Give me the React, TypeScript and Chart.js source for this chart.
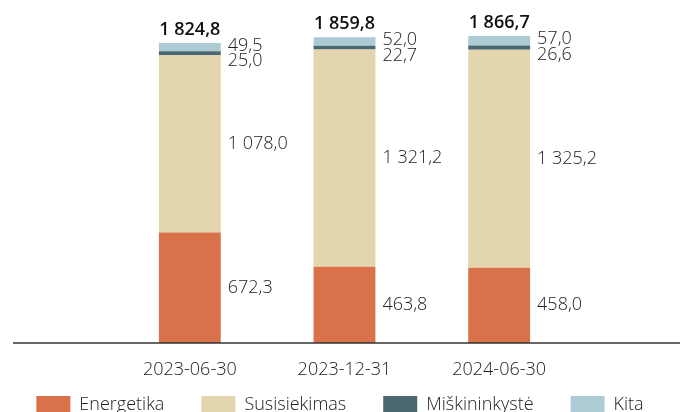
import React, { useEffect, useRef } from "react";
import { Chart, registerables } from "chart.js";

Chart.register(...registerables);

const categories = ["2023-06-30", "2023-12-31", "2024-06-30"];
const energetika = [672.3, 463.8, 458.0];
const susisiekimas = [1078.0, 1321.2, 1325.2];
const miskininkyste = [25.0, 22.7, 26.6];
const kita = [49.5, 52.0, 57.0];
const totals = [1824.8, 1859.8, 1866.7];
const seriesNames = ["Energetika", "Susisiekimas", "Miškininkystė", "Kita"];
const colors = ["#d9724a", "#e3d5ae", "#4b6872", "#adcbd4"];

const FONT = "'Open Sans', 'Noto Sans', sans-serif";

function fmt(v: number): string {
  const s = v.toFixed(1).replace(".", ",");
  const [i, d] = s.split(",");
  const withSp = i.replace(/\B(?=(\d{3})+(?!\d))/g, " ");
  return withSp + "," + d;
}

const W = 680;
const H = 424;

const labelPlugin = {
  id: "segLabels",
  afterDatasetsDraw(chart: any) {
    const ctx = chart.ctx;
    ctx.save();
    ctx.textBaseline = "middle";
    chart.data.datasets.forEach((ds: any, di: number) => {
      const meta = chart.getDatasetMeta(di);
      meta.data.forEach((bar: any, i: number) => {
        const v = ds.data[i];
        const x = bar.x + bar.width / 2 + 7;
        const center = (bar.y + bar.base) / 2;
        let y = center;
        if (di === 3) y = center - 1.5;
        if (di === 2) {
          const k = chart.getDatasetMeta(3).data[i];
          y = (k.y + k.base) / 2 - 1.5 + 15.5;
        }
        ctx.font = `300 18px ${FONT}`;
        ctx.fillStyle = "#222";
        ctx.textAlign = "left";
        ctx.fillText(fmt(v), x, y);
      });
    });
    const topMeta = chart.getDatasetMeta(3);
    topMeta.data.forEach((bar: any, i: number) => {
      ctx.font = `600 18px ${FONT}`;
      ctx.fillStyle = "#111";
      ctx.textAlign = "center";
      ctx.fillText(fmt(totals[i]), bar.x, bar.y - 13.5);
    });
    const yb = chart.chartArea.bottom;
    ctx.strokeStyle = "#333";
    ctx.lineWidth = 1.5;
    ctx.beginPath();
    ctx.moveTo(13, yb);
    ctx.lineTo(W, yb);
    ctx.stroke();
    ctx.restore();
  },
};

export default function App() {
  const ref = useRef<HTMLCanvasElement | null>(null);
  useEffect(() => {
    if (!ref.current) return;
    const series = [energetika, susisiekimas, miskininkyste, kita];
    const chart = new Chart(ref.current, {
      type: "bar",
      data: {
        labels: categories,
        datasets: series.map((d, i) => ({
          label: seriesNames[i],
          data: d,
          backgroundColor: colors[i],
          borderWidth: 0,
          barPercentage: 0.4,
          categoryPercentage: 1,
        })),
      },
      options: {
        responsive: false,
        animation: false,
        devicePixelRatio: 1,
        layout: { padding: { top: 14.2, left: 0, right: 0, bottom: 0 } },
        plugins: {
          tooltip: { enabled: false },
          legend: {
            position: "bottom",
            labels: {
              boxWidth: 34,
              boxHeight: 18,
              padding: 10,
              color: "#222",
              font: { family: FONT, size: 18, weight: "300" },
              generateLabels: (chart: any) =>
                chart.data.datasets.map((ds: any, i: number) => ({
                  text: i < chart.data.datasets.length - 1 ? ds.label + "\u2003\u2002" : ds.label,
                  fillStyle: ds.backgroundColor,
                  strokeStyle: ds.backgroundColor,
                  lineWidth: 0,
                  hidden: false,
                  datasetIndex: i,
                  fontColor: "#222",
                })),
            },
          },
        },
        scales: {
          x: {
            stacked: true,
            grid: { display: false },
            border: { display: false },
            ticks: {
              color: "#222",
              padding: 8,
              font: { family: FONT, size: 18, weight: "300" },
            },
            afterFit: (s: any) => {
              s.height = 43;
            },
          },
          y: {
            stacked: true,
            min: 0,
            max: 2000,
            position: "left",
            grid: { display: false },
            border: { display: false },
            ticks: { display: false },
            afterFit: (s: any) => {
              s.width = 112.5;
            },
          },
          y2: {
            position: "right",
            min: 0,
            max: 2000,
            grid: { display: false },
            border: { display: false },
            ticks: { display: false },
            afterFit: (s: any) => {
              s.width = 103.5;
            },
          },
        },
      },
      plugins: [labelPlugin],
    });
    return () => chart.destroy();
  }, []);
  return (
    <div style={{ position: "fixed", left: 0, top: 0, width: W, height: H, background: "#fff" }}>
      <canvas ref={ref} width={W} height={H} style={{ display: "block" }} />
    </div>
  );
}
